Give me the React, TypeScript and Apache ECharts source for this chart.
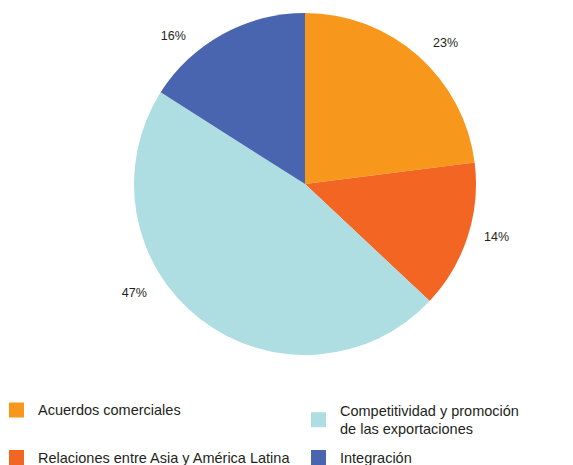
import React, { useEffect, useRef } from "react";
import * as echarts from "echarts";

const categories = [
  "Acuerdos comerciales",
  "Relaciones entre Asia y América Latina",
  "Competitividad y promoción de las exportaciones",
  "Integración",
];
const values = [23, 14, 47, 16];
const colors = ["#F7981D", "#F26522", "#AEDDE2", "#4A65AF"];

const FONT = "'Liberation Sans', Arial, Helvetica, sans-serif";
const TEXT = "#231F20";

export default function App() {
  const ref = useRef<HTMLDivElement>(null);
  useEffect(() => {
    if (!ref.current) return;
    const chart = echarts.init(ref.current, undefined, { renderer: "svg" });
    // label placement tweaks (style only), per slice
    const labelShift = [
      [2, -4],
      [0, -4],
      [-41, -36],
      [-26, 12],
    ];
    const legendBase = {
      orient: "vertical" as const,
      icon: "rect",
      itemWidth: 15,
      itemHeight: 15,
      padding: 0,
      selectedMode: false,
      textStyle: {
        fontFamily: FONT,
        fontSize: 14.5,
        color: TEXT,
        padding: [0, 0, 0, 9],
      },
    };
    chart.setOption({
      animation: false,
      color: colors,
      legend: [
        { ...legendBase, left: 9, top: 402.5, data: [categories[0]] },
        { ...legendBase, left: 9, top: 450, data: [categories[1]] },
        {
          ...legendBase,
          left: 311,
          top: 392,
          data: [categories[2]],
          formatter: () => "Competitividad y promoción\nde las exportaciones",
          textStyle: {
            ...legendBase.textStyle,
            lineHeight: 18.5,
            padding: [18.5, 0, 0, 9],
          },
        },
        { ...legendBase, left: 311, top: 450, data: [categories[3]] },
      ],
      series: [
        {
          type: "pie",
          center: [305, 184],
          radius: 171,
          startAngle: 90,
          clockwise: true,
          avoidLabelOverlap: false,
          data: categories.map((name, i) => ({ name, value: values[i] })),
          itemStyle: { borderWidth: 0 },
          label: {
            show: true,
            position: "outside",
            formatter: "{d}%",
            fontFamily: FONT,
            fontSize: 12.5,
            color: TEXT,
          },
          labelLine: { show: false, length: 12, length2: 0 },
          labelLayout: (p: any) => ({
            dx: labelShift[p.dataIndex][0],
            dy: labelShift[p.dataIndex][1],
          }),
          emphasis: { disabled: true },
        },
      ],
    });
    return () => chart.dispose();
  }, []);
  return (
    <div
      ref={ref}
      style={{ position: "fixed", left: 0, top: 0, width: 573, height: 465, background: "#fff" }}
    />
  );
}
